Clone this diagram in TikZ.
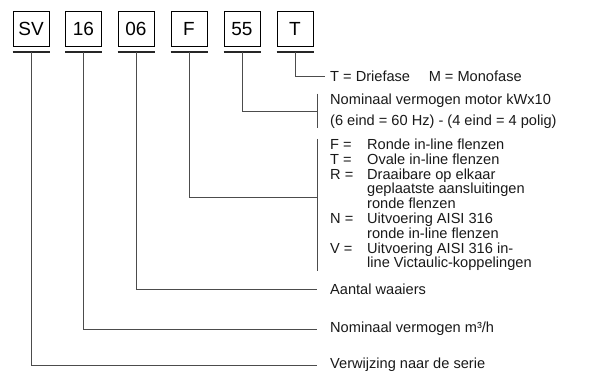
\documentclass[tikz,border=0pt]{standalone}
\usepackage{fontspec}
\setmainfont{Liberation Sans}
\begin{document}
\begin{tikzpicture}[x=1pt, y=-1pt,
    codebox/.style={draw, rectangle, line width=0.8pt, minimum width=36pt, minimum height=35pt, font=\fontsize{19}{19}\selectfont, inner sep=0pt},
    uline/.style={draw=black!85, line width=1.1pt},
    lead/.style={draw=black!70, line width=0.9pt},
    lbl/.style={anchor=west, inner sep=0pt, align=left, text=black!90, font=\fontsize{14.6}{14.8}\selectfont}
]
\useasboundingbox (0,0) rectangle (589,372);
% code boxes
\foreach \x/\name/\code in {31/sv/SV, 83.5/cap/16, 136/stg/06, 189/fl/F, 242/kw/55, 295/ph/T} {
    \node[codebox] (\name) at (\x, 29) {\code};
    \draw[uline] (\x-18.5, 52) -- (\x+18.5, 52);
    \coordinate (u\name) at (\x, 52);
}

% legends
\node[lbl] (lph) at (330, 76) {T = Driefase \quad M = Monofase};
\node[lbl] (lkw) at (330, 111) {Nominaal vermogen motor kWx10\\[6pt] (6 eind = 60 Hz) - (4 eind = 4 polig)};
\node[lbl] (lfl) at (330, 205) {%
    \makebox[37pt][l]{F =}Ronde in-line flenzen\\
    \makebox[37pt][l]{T =}Ovale in-line flenzen\\
    \makebox[37pt][l]{R =}Draaibare op elkaar\\
    \hspace*{37pt}geplaatste aansluitingen\\
    \hspace*{37pt}ronde flenzen\\
    \makebox[37pt][l]{N =}Uitvoering AISI 316\\
    \hspace*{37pt}ronde in-line flenzen\\
    \makebox[37pt][l]{V =}Uitvoering AISI 316 in-\\
    \hspace*{37pt}line Victaulic-koppelingen};
\node[lbl] (lstg) at (330, 289) {Aantal waaiers};
\node[lbl] (lcap) at (330, 329) {Nominaal vermogen m³/h};
\node[lbl] (lsv) at (330, 365) {Verwijzing naar de serie};

% leaders
\draw[lead] (uph) |- ([xshift=-5pt]lph.west);
\draw[lead] ([xshift=-13pt]lkw.north west) -- ([xshift=-13pt]lkw.south west);
\draw[lead] (ukw) |- ([xshift=-13pt]lkw.west);
\draw[lead] ([xshift=-13pt]lfl.north west) -- ([xshift=-13pt]lfl.south west);
\draw[lead] (ufl) |- ([xshift=-13pt,yshift=8pt]lfl.west);
\draw[lead] (ustg) |- ([xshift=-13pt]lstg.west);
\draw[lead] (ucap) |- ([xshift=-13pt]lcap.west);
\draw[lead] (usv) |- ([xshift=-13pt]lsv.west);
\end{tikzpicture}
\end{document}
